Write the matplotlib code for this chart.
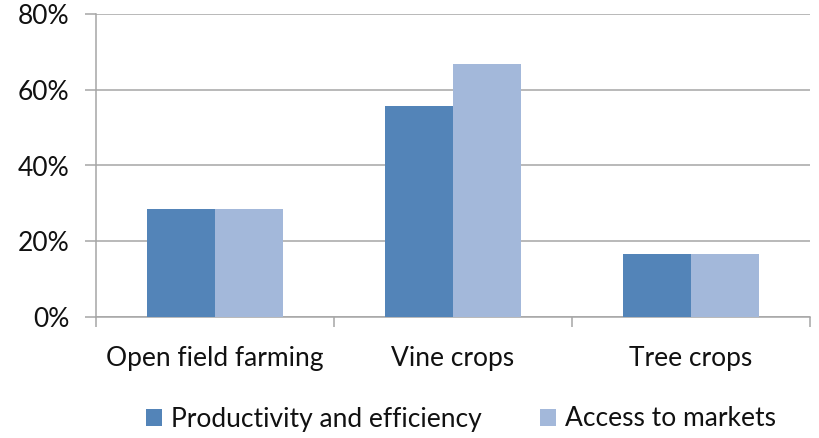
import matplotlib.pyplot as plt
import matplotlib.ticker as ticker
import numpy as np

# Share of respondents by crop type and priority area
categories = ['Open field farming', 'Vine crops', 'Tree crops']
productivity = [0.286, 0.556, 0.167]
market_access = [0.286, 0.667, 0.167]
series_names = ['Productivity and efficiency', 'Access to markets']

plt.rcParams['font.family'] = ['Lato', 'DejaVu Sans']

fig = plt.figure(figsize=(8.19, 4.38), dpi=100)
ax = fig.add_axes([96 / 819, 1 - 317 / 438, (810 - 96) / 819, (317 - 14) / 438])

x = np.arange(len(categories))
w = 1 / 3.5
ax.bar(x - w / 2, productivity, width=w, color='#5384B8', label=series_names[0], zorder=3)
ax.bar(x + w / 2, market_access, width=w, color='#A3B8DA', label=series_names[1], zorder=3)

ax.set_xlim(-0.5, 2.5)
ax.set_ylim(0, 0.8)
ax.yaxis.set_major_locator(ticker.MultipleLocator(0.2))
ax.yaxis.set_major_formatter(ticker.PercentFormatter(1.0, decimals=0))
ax.grid(axis='y', color='#A6A6A6', linewidth=1.1, zorder=0)

# category ticks sit between the groups, labels sit under the groups
ax.set_xticks([-0.5, 0.5, 1.5, 2.5])
ax.set_xticklabels([])
ax.set_xticks(x, minor=True)
ax.set_xticklabels(categories, minor=True, fontsize=19, color='#111111')
ax.tick_params(axis='x', which='minor', length=0, pad=21)
ax.tick_params(axis='x', which='major', length=7, color='#A6A6A6', width=1.1, direction='out')
ax.tick_params(axis='y', length=8, color='#A6A6A6', width=1.1, labelsize=19,
               labelcolor='#111111', pad=11)

for side in ['top', 'right']:
    ax.spines[side].set_visible(False)
for side in ['left', 'bottom']:
    ax.spines[side].set_color('#A6A6A6')
    ax.spines[side].set_linewidth(1.1)

fig.legend(loc='center', bbox_to_anchor=(461 / 819, 1 - 419 / 438), ncol=2, frameon=False,
           fontsize=19, handlelength=0.6, handleheight=0.6, handletextpad=0.35,
           columnspacing=2.2, labelcolor='#111111')

fig.savefig('out.png', dpi=100, facecolor='white')
